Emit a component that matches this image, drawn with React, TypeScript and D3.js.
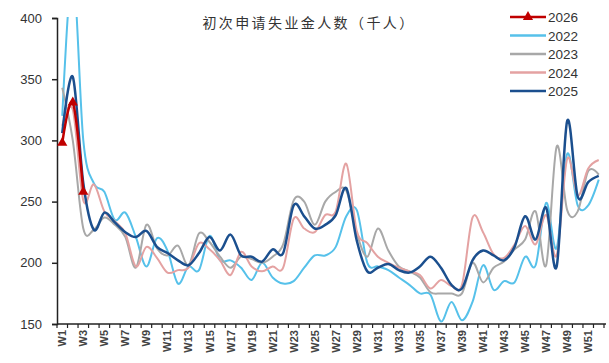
import React, { useEffect, useRef } from 'react';
import * as d3 from 'd3';

const weeks = d3.range(1, 53).map(i => `W${i}`);
const yTicks = [150, 200, 250, 300, 350, 400];

const s2022 = [320, 440, 300, 265, 258, 235, 241, 221, 197, 220, 210, 183, 197, 194, 222, 202, 202, 196, 186, 200, 188, 183, 185, 196,
  206, 206, 213, 238, 243, 200, 197, 194, 188, 182, 175, 174, 152, 168, 153, 168, 198, 178, 185, 184, 205, 198, 249, 212, 289, 247, 247, 268];
const s2023 = [343, 300, 228, 227, 237, 231, 221, 196, 231, 212, 206, 214, 198, 224, 217, 205, 196, 205, 203, 200, 205, 215, 251, 250,
  231, 250, 258, 259, 224, 205, 228, 210, 197, 193, 188, 176, 175, 175, 175, 200, 184, 196, 201, 211, 219, 242, 198, 295, 243, 242, 275, 272];
const s2024 = [312, 325, 251, 264, 242, 234, 224, 197, 213, 204, 192, 194, 196, 216, 211, 202, 190, 209, 197, 193, 197, 196, 236, 228,
  225, 239, 242, 281, 226, 216, 205, 200, 196, 193, 190, 179, 186, 181, 182, 237, 225, 207, 204, 215, 230, 215, 239, 206, 285, 255, 277, 284];
const s2025 = [306, 352, 265, 227, 241, 233, 225, 221, 226, 213, 208, 202, 198, 208, 221, 210, 223, 206, 205, 201, 211, 208, 247, 238,
  228, 231, 239, 261, 218, 193, 196, 199, 194, 192, 197, 205, 196, 182, 179, 202, 210, 206, 202, 213, 238, 219, 245, 197, 316, 254, 266, 271];
const s2026 = [298, 331, 258];

const series = [
  { name: '2022', values: s2022, color: '#56c1ea', width: 2 },
  { name: '2023', values: s2023, color: '#a8a8a8', width: 2 },
  { name: '2024', values: s2024, color: '#e4a2a2', width: 2 },
  { name: '2025', values: s2025, color: '#1b4f8e', width: 2.5 },
  { name: '2026', values: s2026, color: '#c00000', width: 2.5 },
];
const legendOrder = ['2026', '2022', '2023', '2024', '2025'];

export default function App() {
  const ref = useRef<SVGSVGElement>(null);
  useEffect(() => {
    const svg = d3.select(ref.current); svg.selectAll('*').remove();
    const x = d3.scaleBand().domain(weeks).range([57, 604]);
    const y = d3.scaleLinear().domain([150, 400]).range([324, 18]);
    const font = 'Liberation Sans, Arial, sans-serif';

    svg.append('defs').append('clipPath').attr('id', 'plot')
      .append('rect').attr('x', 57).attr('y', 17).attr('width', 552).attr('height', 310);

    // y axis
    const ya = svg.append('g').attr('transform', 'translate(57,0)')
      .call(d3.axisLeft(y).tickValues(yTicks).tickSize(5).tickPadding(10));
    ya.select('.domain').attr('stroke', '#222').attr('stroke-width', 1.5);
    ya.selectAll('.tick line').attr('stroke', '#222').attr('stroke-width', 1.5);
    ya.selectAll('text').attr('font-family', font).attr('font-size', 13).attr('fill', '#333');

    // x axis
    const xa = svg.append('g').attr('transform', 'translate(0,324)');
    xa.append('line').attr('x1', 57).attr('x2', 606).attr('stroke', '#222').attr('stroke-width', 1.5);
    xa.selectAll('.tk').data(weeks.concat(['end'])).enter().append('line')
      .attr('x1', (d, i) => 57 + i * x.bandwidth()).attr('x2', (d, i) => 57 + i * x.bandwidth())
      .attr('y1', 0).attr('y2', 4).attr('stroke', '#222').attr('stroke-width', 1.2);
    xa.selectAll('.lb').data(weeks.filter((d, i) => i % 2 === 0)).enter().append('text')
      .attr('transform', d => `translate(${(x(d) as number) + x.bandwidth() / 2 + 4},6) rotate(-90)`)
      .attr('text-anchor', 'end').attr('font-family', font).attr('font-size', 11)
      .attr('font-weight', 'bold').attr('fill', '#444').text(d => d);

    const line = d3.line<number>()
      .x((d, i) => (x(weeks[i]) as number) + x.bandwidth() / 2)
      .y(d => y(d))
      .curve(d3.curveCardinal.tension(0));

    const g = svg.append('g').attr('clip-path', 'url(#plot)');
    series.forEach(s => {
      g.append('path').datum(s.values).attr('fill', 'none').attr('stroke', s.color)
        .attr('stroke-width', s.width).attr('stroke-linejoin', 'round').attr('d', line);
    });
    const tri = d3.symbol().type(d3.symbolTriangle).size(45);
    g.selectAll('.mk').data(s2026).enter().append('path')
      .attr('d', tri)
      .attr('transform', (d, i) => `translate(${(x(weeks[i]) as number) + x.bandwidth() / 2},${y(d)})`)
      .attr('fill', '#c00000');

    // title
    svg.append('text').attr('x', 309).attr('y', 28).attr('text-anchor', 'middle')
      .attr('font-family', 'Noto Sans CJK SC').attr('font-size', 14).attr('letter-spacing', 2.4)
      .attr('fill', '#333').text('初次申请失业金人数（千人）');

    // legend
    const lg = svg.append('g');
    legendOrder.forEach((name, i) => {
      const s = series.find(v => v.name === name)!;
      const ly = 17 + i * 18.5;
      lg.append('line').attr('x1', 510).attr('x2', 546).attr('y1', ly).attr('y2', ly)
        .attr('stroke', s.color).attr('stroke-width', 2.5);
      if (name === '2026') {
        lg.append('path').attr('d', tri).attr('transform', `translate(528,${ly})`).attr('fill', '#c00000');
      }
      lg.append('text').attr('x', 548).attr('y', ly + 5).attr('font-family', font)
        .attr('font-size', 13.5).attr('fill', '#333').text(name);
    });
  }, []);
  return <svg ref={ref} width={609} height={363} style={{ position: 'absolute', left: 0, top: 0, background: '#fff' }} />;
}
